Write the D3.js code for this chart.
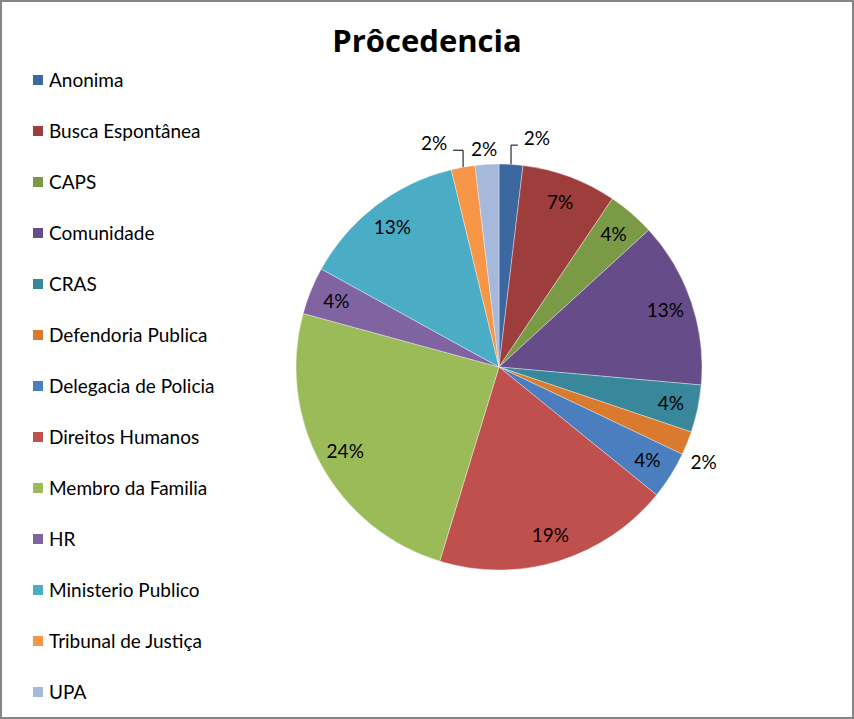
<!DOCTYPE html>
<html><head><meta charset="utf-8">
<script src="https://cdn.jsdelivr.net/npm/d3@7"></script>
<style>body{margin:0;background:#fff}svg{display:block}text{font-family:Lato,"Open Sans",sans-serif}</style>
</head><body><div id="chart"></div>
<script>
const title = "Prôcedencia";
const categories = ["Anonima","Busca Espontânea","CAPS","Comunidade","CRAS","Defendoria Publica","Delegacia de Policia","Direitos Humanos","Membro da Familia","HR","Ministerio Publico","Tribunal de Justiça","UPA"];
const counts = [1,4,2,7,2,1,2,10,13,2,7,1,1];
const pctLabels = ["2%","7%","4%","13%","4%","2%","4%","19%","24%","4%","13%","2%","2%"];
const colors = ["#3C67A0","#9E3E3C","#7A9A45","#664D8A","#38879B","#D97A2E","#4A7EBF","#C0504D","#9BBB59","#8064A2","#4BACC6","#F79646","#A6B9DA"];
// label placement: null = inside; otherwise outside with angle shift (deg) / radius (px) / leader
const labelLayout = [
  {shift:6, r:232, leader:"right"}, null, null, null, null,
  {shift:3, r:226, leader:null}, null, null, null, null, null,
  {shift:-6, r:233, leader:"left"}, {shift:-0.5, r:218, leader:null}
];

const W = 854, H = 719;
const cx = 499, cy = 367, R = 203;
const FS = 19;
const svg = d3.select("#chart").append("svg").attr("width", W).attr("height", H);
svg.append("rect").attr("x",1).attr("y",1).attr("width",W-2).attr("height",H-2)
  .attr("fill","#fff").attr("stroke","#868686").attr("stroke-width",2);

svg.append("text").attr("x",427).attr("y",52).attr("text-anchor","middle")
  .style("font-family","'Open Sans',Lato,sans-serif")
  .attr("font-size",31).attr("font-weight","bold").attr("fill","#000").text(title);

// legend
const legend = svg.append("g");
categories.forEach((c,i)=>{
  const yc = 80 + i*51;
  legend.append("rect").attr("x",33).attr("y",yc-5).attr("width",10).attr("height",10).attr("fill",colors[i]);
  legend.append("text").attr("x",49).attr("y",yc).attr("dy","0.35em").attr("font-size",FS).attr("fill","#000").text(c);
});

const data = categories.map((c,i)=>({c, v:counts[i], i}));
const pie = d3.pie().value(d=>d.v).sort(null);
const arcs = pie(data);
const arc = d3.arc().innerRadius(0).outerRadius(R);
const g = svg.append("g").attr("transform",`translate(${cx},${cy})`);
g.selectAll("path").data(arcs).enter().append("path")
  .attr("d",arc).attr("fill",d=>colors[d.data.i])
  .attr("stroke","#fff").attr("stroke-width",0.6).attr("stroke-opacity",0.6);

const inR = R*0.865;
arcs.forEach(a=>{
  const i = a.data.i;
  const mid = (a.startAngle + a.endAngle)/2;
  const L = labelLayout[i];
  if (!L) {
    g.append("text").attr("x",inR*Math.sin(mid)).attr("y",-inR*Math.cos(mid))
      .attr("dy","0.35em").attr("text-anchor","middle").attr("font-size",FS).attr("fill","#000").text(pctLabels[i]);
  } else {
    const ang = mid + L.shift*Math.PI/180;
    const lx = L.r*Math.sin(ang), ly = -L.r*Math.cos(ang);
    g.append("text").attr("x",lx).attr("y",ly).attr("dy","0.35em").attr("text-anchor","middle")
      .attr("font-size",FS).attr("fill","#000").text(pctLabels[i]);
    if (L.leader) {
      const ex = R*Math.sin(mid), ey = -R*Math.cos(mid);
      const hy = ly + 7;
      const hx = L.leader==="right" ? lx - 19 : lx + 19;
      g.append("path").attr("d",`M${ex},${ey}L${ex},${hy}L${hx},${hy}`)
        .attr("fill","none").attr("stroke","#000").attr("stroke-width",1);
    }
  }
});
</script></body></html>
